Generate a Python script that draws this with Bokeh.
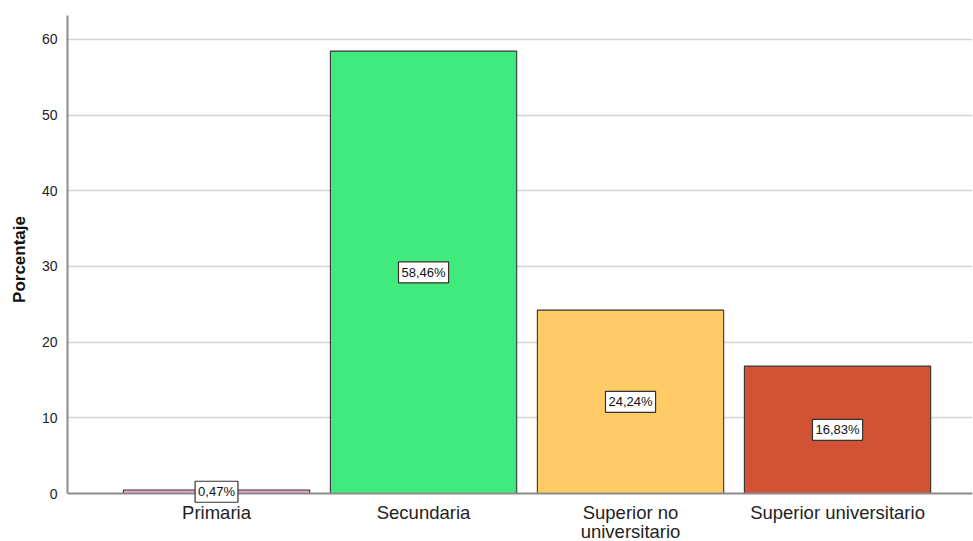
from bokeh.plotting import figure
from bokeh.models import ColumnDataSource, Label, FixedTicker, Range1d, Span
from bokeh.embed import file_html
from bokeh.resources import INLINE

categories = ["Primaria", "Secundaria", "Superior no\nuniversitario", "Superior universitario"]
values = [0.47, 58.46, 24.24, 16.83]
colors = ["#EAA8CC", "#41EA7E", "#FECB66", "#D15334"]
y_ticks = [0, 10, 20, 30, 40, 50, 60]

FONT = "Liberation Sans"
Y_TOP = 63.17
Y_BOTTOM = -1.32   # a little room under zero so the smallest value box is not cut

xs = list(range(len(categories)))
labels = [f"{v:.2f}".replace(".", ",") + "%" for v in values]
src = ColumnDataSource(dict(x=xs, top=values, mid=[v / 2 for v in values],
                            color=colors, label=labels))

p = figure(frame_width=905, frame_height=488, output_backend="svg",
           toolbar_location=None,
           x_range=Range1d(-0.72, 3.652), y_range=Range1d(Y_BOTTOM, Y_TOP),
           min_border_left=67, min_border_right=1, min_border_top=15,
           min_border_bottom=36)
p.outline_line_color = None
p.background_fill_color = "white"

p.vbar(x="x", top="top", bottom=0, width=0.9, fill_color="color",
       line_color="#333333", line_width=1.1, source=src)

# baseline of the bars
p.add_layout(Span(location=0, dimension="width", line_color="#8c8c8c",
                  line_width=2))

# value boxes centred in each bar
for x, m, t in zip(xs, src.data["mid"], labels):
    p.add_layout(Label(x=x, y=m, text=t, text_align="center",
                       text_baseline="middle", text_font=FONT,
                       text_font_size="13px", text_color="#111111",
                       background_fill_color="white",
                       border_line_color="#333333", border_line_width=1.2,
                       padding=3, level="overlay"))

# y axis
p.yaxis.ticker = FixedTicker(ticks=y_ticks)
p.yaxis.bounds = (0, Y_TOP)
p.yaxis.major_tick_line_color = None
p.yaxis.minor_tick_line_color = None
p.yaxis.axis_line_color = "#8c8c8c"
p.yaxis.axis_line_width = 2
p.yaxis.major_label_text_font = FONT
p.yaxis.major_label_text_font_size = "14px"
p.yaxis.major_label_text_color = "#222222"
p.yaxis.major_label_standoff = 4
p.yaxis.axis_label = "Porcentaje"
p.yaxis.axis_label_text_font = FONT
p.yaxis.axis_label_text_font_style = "bold"
p.yaxis.axis_label_text_font_size = "17px"
p.yaxis.axis_label_text_color = "#111111"
p.yaxis.axis_label_standoff = 10

# x axis with category names
p.xaxis.ticker = FixedTicker(ticks=xs)
p.xaxis.major_label_overrides = {i: c for i, c in zip(xs, categories)}
p.xaxis.major_tick_line_color = None
p.xaxis.minor_tick_line_color = None
p.xaxis.axis_line_color = None
p.xaxis.major_label_text_font = FONT
p.xaxis.major_label_text_font_size = "18.5px"
p.xaxis.major_label_text_line_height = 0.95
p.xaxis.major_label_text_color = "#222222"
p.xaxis.major_label_standoff = -8

p.xgrid.grid_line_color = None
p.ygrid.grid_line_color = "#d4d4d4"
p.ygrid.grid_line_width = 1.5
p.ygrid.ticker = FixedTicker(ticks=y_ticks[1:])

open("out.html", "w").write(file_html(p, INLINE))
